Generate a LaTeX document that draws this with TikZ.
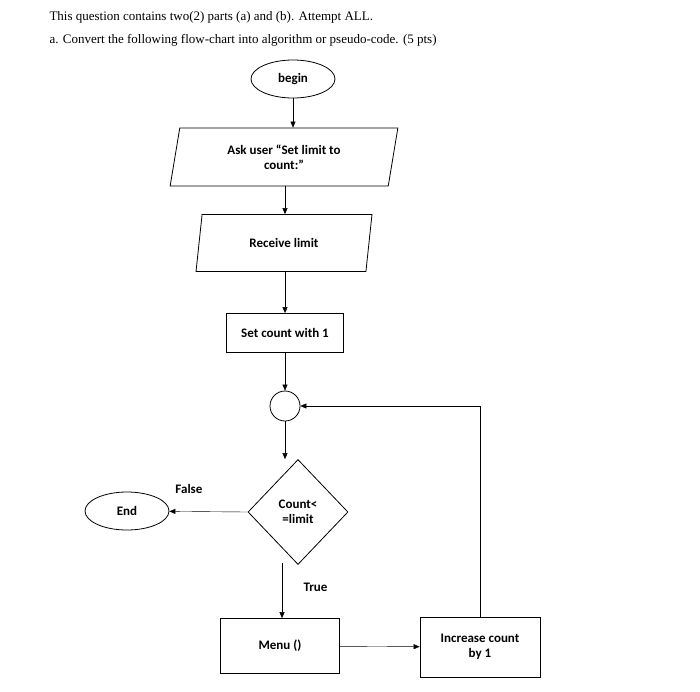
\documentclass[tikz,border=0pt]{standalone}
\usepackage{fontspec}
\setmainfont{Liberation Serif}
\newfontfamily\flowfont{Carlito}
\usetikzlibrary{shapes.geometric, arrows.meta, positioning}
\tikzset{
    lbl/.style={font=\flowfont\bfseries\fontsize{13}{15}\selectfont},
    box/.style={draw, thick, lbl, align=center},
    term/.style={box, ellipse, minimum width=84pt, minimum height=38pt},
    io/.style={box, trapezium, trapezium left angle=80, trapezium right angle=100, trapezium stretches=true},
    proc/.style={box, rectangle},
    flow/.style={-{Triangle[length=6pt,width=5pt]}, thin}
}
\begin{document}
\begin{tikzpicture}[x=1pt,y=-1pt]
    \useasboundingbox (0,0) rectangle (700,691);
    \fill[white] (0,0) rectangle (700,691);
    % Title
    \node[anchor=west, font=\fontsize{13}{15}\selectfont] (q1) at (46,17) {This question contains two(2) parts (a) and (b). Attempt ALL.};
    \node[anchor=west, font=\fontsize{13}{15}\selectfont] (q2) at (46,40) {a. Convert the following flow-chart into algorithm or pseudo-code. (5 pts)};
    % Nodes
    \node[term] (begin) at (293,79) {begin};
    \node[io, minimum width=228pt, minimum height=58pt] (ask) at (284,157) {Ask user “Set limit to\\count:”};
    \node[io, minimum width=176pt, minimum height=57pt] (recv) at (284,243) {Receive limit};
    \node[proc, minimum width=117pt, minimum height=39pt] (set) at (285,333) {Set count with 1};
    \node[circle, draw, thick, minimum size=30pt] (join) at (285,406) {};
    \node[box, diamond, minimum width=100pt, minimum height=105pt, inner sep=0pt] (test) at (298,512) {Count<\\=limit};
    \node[term] (end) at (127,511) {End};
    \node[proc, minimum width=119pt, minimum height=55pt] (menu) at (280,646) {Menu ()};
    \node[proc, minimum width=120pt, minimum height=60pt] (inc) at (480,647) {Increase count\\by 1};
    \coordinate (tbot) at (282,563);
    % Connectors
    \draw[flow] (begin) -- (ask.north -| begin);
    \draw[flow] (ask.south -| 285,0) -- (recv.north -| 285,0);
    \draw[flow] (recv.south -| 285,0) -- (set.north -| 285,0);
    \draw[flow] (set) -- (join);
    \draw[flow] (join) -- (test.north -| join);
    \draw[flow] (test.west) -- node[above, pos=0.75, yshift=14pt, lbl] {False} (end);
    \draw[flow] (tbot) -- node[right, pos=0.45, xshift=18pt, lbl] {True} (menu.north -| tbot);
    \draw[flow] (menu) -- (inc);
    \draw[flow] (inc.north) |- (join.east);
\end{tikzpicture}
\end{document}
